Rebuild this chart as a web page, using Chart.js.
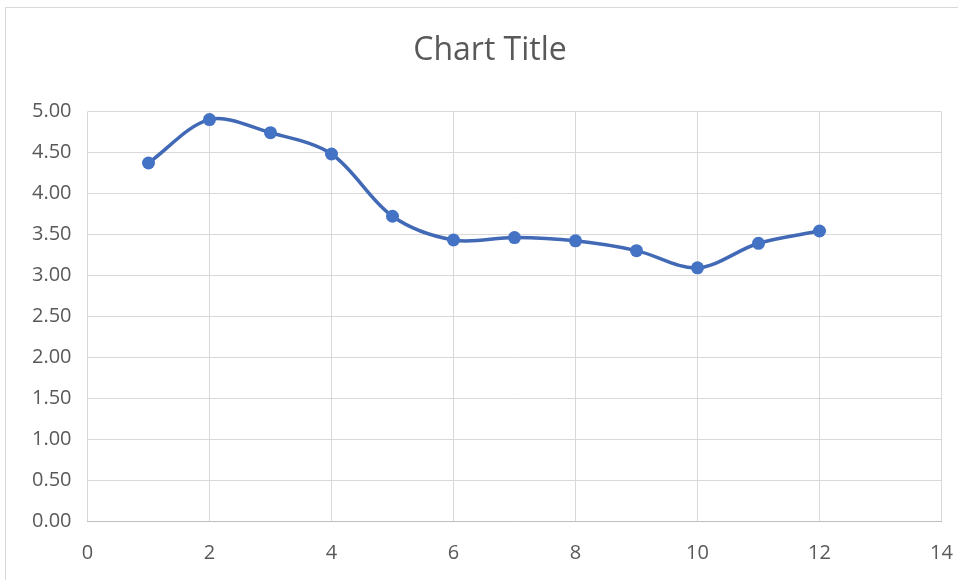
<!DOCTYPE html>
<html>
<head>
<meta charset="utf-8">
<script src="https://cdn.jsdelivr.net/npm/chart.js@4/dist/chart.umd.min.js"></script>
<style>
  html, body { margin: 0; padding: 0; background: #ffffff; overflow: hidden; }
  #wrap { position: relative; width: 958px; height: 580px; }
  #frame { position: absolute; left: 5px; top: 7px; width: 1000px; height: 620px;
           border: 1px solid #d9d9d9; box-sizing: border-box; pointer-events: none; }
  canvas { position: absolute; left: 0; top: 0; }
</style>
</head>
<body>
<div id="wrap">
  <div id="frame"></div>
  <canvas id="chart" width="958" height="580"></canvas>
</div>
<script>
// Series values
const xValues = [1, 2, 3, 4, 5, 6, 7, 8, 9, 10, 11, 12];
const yValues = [4.37, 4.90, 4.74, 4.48, 3.72, 3.43, 3.46, 3.42, 3.30, 3.09, 3.39, 3.54];

// Axis ranges
const xTicks = [0, 2, 4, 6, 8, 10, 12, 14];
const yTicks = [0, 0.5, 1, 1.5, 2, 2.5, 3, 3.5, 4, 4.5, 5];

const points = xValues.map((x, i) => ({ x: x, y: yValues[i] }));

const FONT = "'Open Sans', 'Liberation Sans', sans-serif";
const TEXT = '#595959';
const GRID = '#d9d9d9';
const LINE = '#4169b5';
const MARK = '#4472c4';

new Chart(document.getElementById('chart'), {
  type: 'scatter',
  data: {
    datasets: [{
      data: points,
      showLine: true,
      borderColor: LINE,
      backgroundColor: MARK,
      borderWidth: 3.5,
      tension: 0.33,
      pointRadius: 6.5,
      pointHoverRadius: 6.5,
      pointBorderWidth: 0,
      pointBackgroundColor: MARK
    }]
  },
  options: {
    responsive: false,
    animation: false,
    layout: { padding: { left: 22, right: 0, top: 0, bottom: 0 } },
    plugins: {
      legend: { display: false },
      tooltip: { enabled: false },
      title: {
        display: true,
        text: 'Chart Title',
        color: TEXT,
        font: { family: FONT, size: 32, weight: 'normal' },
        padding: { top: 32, bottom: 41 }
      }
    },
    scales: {
      x: {
        type: 'linear',
        min: xTicks[0],
        max: xTicks[xTicks.length - 1],
        afterBuildTicks: s => { s.ticks = xTicks.map(v => ({ value: v })); },
        afterFit: s => { s.height = 59; s.paddingLeft = 0; s.paddingRight = 16.5; },
        grid: { color: GRID, lineWidth: 1, drawTicks: false },
        border: { color: '#bfbfbf', width: 1 },
        ticks: {
          color: TEXT,
          font: { family: FONT, size: 20 },
          padding: 20,
          callback: v => String(v)
        }
      },
      y: {
        type: 'linear',
        min: yTicks[0],
        max: yTicks[yTicks.length - 1],
        afterBuildTicks: s => { s.ticks = yTicks.map(v => ({ value: v })); },
        afterFit: s => { s.width = 65.5; s.paddingTop = 0; s.paddingBottom = 0; },
        grid: { color: GRID, lineWidth: 1, drawTicks: false },
        border: { display: false },
        ticks: {
          color: TEXT,
          font: { family: FONT, size: 20 },
          padding: 16,
          callback: v => Number(v).toFixed(2)
        }
      }
    }
  }
});
</script>
</body>
</html>
